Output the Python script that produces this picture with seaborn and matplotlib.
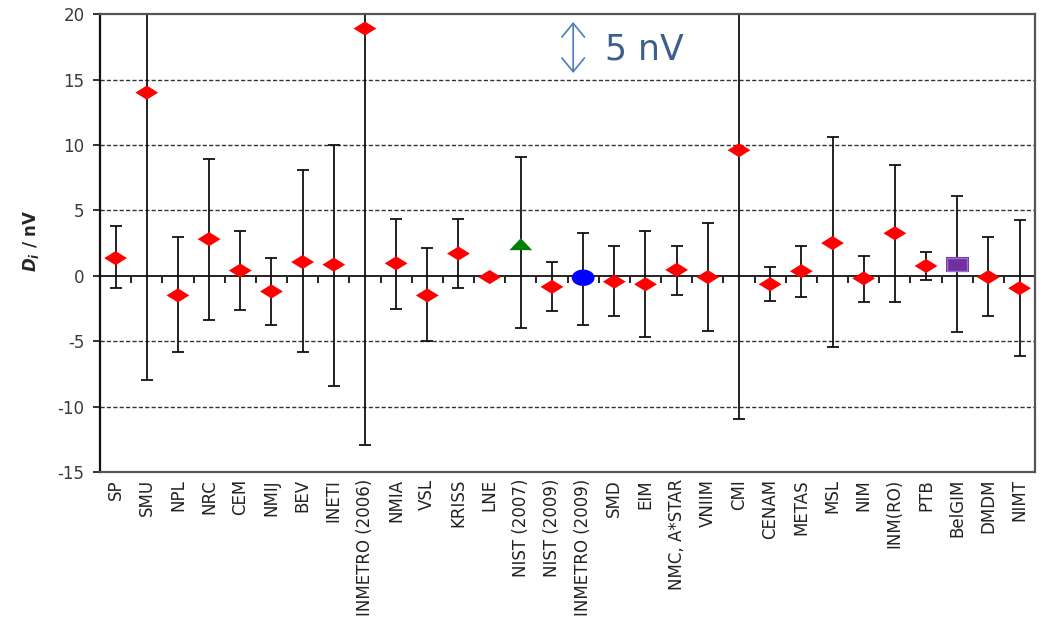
import numpy as np
import pandas as pd
import matplotlib
matplotlib.use("Agg")
import matplotlib.pyplot as plt
import seaborn as sns

# Data --------------------------------------------------------------------------
labs = ["SP", "SMU", "NPL", "NRC", "CEM", "NMIJ", "BEV", "INETI", "INMETRO (2006)",
        "NMIA", "VSL", "KRISS", "LNE", "NIST (2007)", "NIST (2009)", "INMETRO (2009)",
        "SMD", "EIM", "NMC, A*STAR", "VNIIM", "CMI", "CENAM", "METAS", "MSL", "NIM",
        "INM(RO)", "PTB", "BelGIM", "DMDM", "NIMT"]
d_val = [1.35, 14.0, -1.5, 2.8, 0.4, -1.2, 1.05, 0.85, 18.9,
         0.95, -1.5, 1.7, -0.1, 2.35, -0.85, -0.15,
         -0.45, -0.65, 0.45, -0.1, 9.6, -0.65, 0.35, 2.5, -0.2,
         3.25, 0.75, 0.85, -0.1, -0.95]
d_hi = [3.8, 36.0, 2.95, 8.95, 3.4, 1.35, 8.1, 10.0, 50.0,
        4.35, 2.1, 4.35, -0.1, 9.1, 1.05, 3.25,
        2.3, 3.4, 2.3, 4.0, 30.0, 0.7, 2.3, 10.6, 1.55,
        8.45, 1.8, 6.1, 2.95, 4.25]
d_lo = [-0.95, -8.0, -5.85, -3.35, -2.65, -3.8, -5.85, -8.45, -12.9,
        -2.55, -5.0, -0.95, -0.1, -4.0, -2.7, -3.75,
        -3.05, -4.65, -1.45, -4.2, -10.95, -1.9, -1.65, -5.45, -2.0,
        -2.0, -0.3, -4.3, -3.05, -6.15]
kind = ["diamond"] * len(labs)
kind[labs.index("NIST (2007)")] = "triangle"
kind[labs.index("INMETRO (2009)")] = "circle"
kind[labs.index("BelGIM")] = "square"

df = pd.DataFrame({"lab": labs, "D": d_val, "hi": d_hi, "lo": d_lo, "kind": kind})
df["pos"] = np.arange(len(df))

# Style -------------------------------------------------------------------------
sns.set_style("white")
plt.rcParams["font.family"] = ["DejaVu Sans"]
plt.rcParams["axes.unicode_minus"] = False
plt.rcParams["mathtext.fontset"] = "custom"
plt.rcParams["mathtext.it"] = "DejaVu Sans:italic:bold"
plt.rcParams["mathtext.rm"] = "DejaVu Sans:bold"

fig = plt.figure(figsize=(10.46, 6.26), dpi=100)
ax = fig.add_axes([0.0956, 0.246, 0.894, 0.7314])

# grid lines and zero line
for g in [-10, -5, 5, 10, 15]:
    ax.axhline(g, color="#333333", lw=1.0, ls=(0, (3, 1.6)), zorder=0)
ax.axhline(0, color="#222222", lw=1.4, zorder=1)
# small ticks on the zero line between categories
ax.vlines(df["pos"][:-1] + 0.5, -0.55, 0, color="#222222", lw=1.4, zorder=1)

# error bars
ax.errorbar(df["pos"], df["D"], yerr=[df["D"] - df["lo"], df["hi"] - df["D"]],
            fmt="none", ecolor="#111111", elinewidth=1.3, capsize=4, capthick=1.3,
            zorder=2)

# wide, flat marker shapes
wide_diamond = [(-1, 0), (0, 0.62), (1, 0), (0, -0.62), (-1, 0)]
wide_tri = [(-1, -0.45), (0, 0.6), (1, -0.45), (-1, -0.45)]
th = np.linspace(0, 2 * np.pi, 40)
wide_circ = list(zip(np.cos(th), 0.72 * np.sin(th)))
wide_sq = [(-1, -0.68), (1, -0.68), (1, 0.68), (-1, 0.68), (-1, -0.68)]

sns.scatterplot(data=df, x="pos", y="D", hue="kind", style="kind",
                palette={"diamond": "#FF0000", "triangle": "#008000",
                         "circle": "#0000FF", "square": "#7030A0"},
                markers={"diamond": wide_diamond, "triangle": wide_tri,
                         "circle": wide_circ, "square": wide_sq},
                s=270, linewidth=0, legend=False, zorder=3, ax=ax)
sq = df[df["kind"] == "square"]
ax.scatter(sq["pos"], sq["D"], marker=wide_sq, s=200, facecolor="none",
           edgecolor="#9A6FD0", linewidth=1.0, zorder=4)

# axes
ax.set_xlim(-0.5, len(df) - 0.5)
ax.set_ylim(-15, 20)
ax.set_yticks(np.arange(-15, 21, 5))
ax.set_xticks(df["pos"])
ax.set_xticklabels(df["lab"], rotation=90, fontsize=12, color="#222222")
ax.tick_params(axis="x", length=0, pad=5)
ax.tick_params(axis="y", length=5, width=1.3, direction="out", labelsize=12,
               labelcolor="#3a3a3a", color="#222222", pad=6, left=True)
ax.set_xlabel("")
ax.set_ylabel("")
fig.text(0.03, 0.615, "$D_i$ / nV", rotation=90,
         fontsize=12, fontweight="bold", ha="center", va="center")

for side in ["top", "right", "bottom"]:
    ax.spines[side].set_color("#555555")
    ax.spines[side].set_linewidth(1.6)
ax.spines["left"].set_color("#111111")
ax.spines["left"].set_linewidth(1.6)

# scale annotation
ax.annotate("", xy=(14.68, 15.5), xytext=(14.68, 19.4),
            arrowprops=dict(arrowstyle="<->,head_length=0.45,head_width=0.37",
                            color="#4A7EBB", lw=1.2, mutation_scale=22,
                            shrinkA=0, shrinkB=0))
ax.text(15.7, 17.3, "5 nV", fontsize=25, color="#3C5F8E", va="center", ha="left")

fig.savefig("out.png", dpi=100)
